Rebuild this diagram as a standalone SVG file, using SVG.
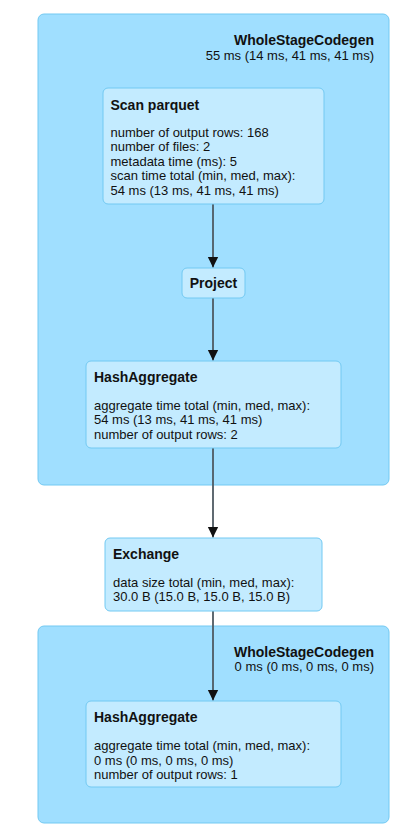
<svg xmlns="http://www.w3.org/2000/svg" width="409" height="831" viewBox="0 0 409 831">
<style>
.cluster{fill:#A0DFFF;stroke:#72C9F2;stroke-width:1}
.node{fill:#C3EBFF;stroke:#72C9F2;stroke-width:1}
text{font-family:"Liberation Sans",Arial,sans-serif;font-size:13px;fill:#111}
.b{font-weight:bold;font-size:14px}
.edge{stroke:#4f5a62;stroke-width:1.8;fill:none}
</style>
<defs>
<marker id="arr" markerUnits="userSpaceOnUse" markerWidth="12" markerHeight="12" viewBox="0 0 12 12" refX="11" refY="6" orient="auto">
<path d="M0,0.6 L11,6 L0,11.4 Z" fill="#111"/>
</marker>
</defs>
<rect width="409" height="831" fill="#fff"/>
<g id="cluster1">
<rect class="cluster" x="38" y="14" width="351" height="471" rx="6"/>
<text class="b" x="374" y="45" text-anchor="end">WholeStageCodegen</text>
<text x="374" y="59.8" text-anchor="end">55 ms (14 ms, 41 ms, 41 ms)</text>
</g>
<g id="cluster2">
<rect class="cluster" x="38" y="626" width="351" height="197" rx="6"/>
<text class="b" x="374" y="656.5" text-anchor="end">WholeStageCodegen</text>
<text x="374" y="671.3" text-anchor="end">0 ms (0 ms, 0 ms, 0 ms)</text>
</g>
<g id="edges">
<line class="edge" x1="213" y1="204" x2="213" y2="267.5" marker-end="url(#arr)"/>
<line class="edge" x1="213" y1="298" x2="213" y2="360.5" marker-end="url(#arr)"/>
<line class="edge" x1="213" y1="448" x2="213" y2="537.5" marker-end="url(#arr)"/>
<line class="edge" x1="213" y1="611" x2="213" y2="700.5" marker-end="url(#arr)"/>
</g>
<g id="scan">
<rect class="node" x="103" y="88" width="221" height="116" rx="5"/>
<text class="b" x="110.5" y="109.5">Scan parquet</text>
<text x="110.5" y="136.5">number of output rows: 168</text>
<text x="110.5" y="151.1">number of files: 2</text>
<text x="110.5" y="165.7">metadata time (ms): 5</text>
<text x="110.5" y="180.3">scan time total (min, med, max):</text>
<text x="110.5" y="194.9">54 ms (13 ms, 41 ms, 41 ms)</text>
</g>
<g id="project">
<rect class="node" x="182" y="268" width="63" height="30" rx="5"/>
<text class="b" x="213.5" y="288" text-anchor="middle">Project</text>
</g>
<g id="hashagg1">
<rect class="node" x="86" y="361" width="255" height="87" rx="5"/>
<text class="b" x="94" y="381.5">HashAggregate</text>
<text x="94" y="409.5">aggregate time total (min, med, max):</text>
<text x="94" y="424.1">54 ms (13 ms, 41 ms, 41 ms)</text>
<text x="94" y="438.7">number of output rows: 2</text>
</g>
<g id="exchange">
<rect class="node" x="105" y="538" width="217" height="73" rx="5"/>
<text class="b" x="113" y="559">Exchange</text>
<text x="113" y="586.5">data size total (min, med, max):</text>
<text x="113" y="601.1">30.0 B (15.0 B, 15.0 B, 15.0 B)</text>
</g>
<g id="hashagg2">
<rect class="node" x="86" y="701" width="255" height="86" rx="5"/>
<text class="b" x="94" y="721.5">HashAggregate</text>
<text x="94" y="750">aggregate time total (min, med, max):</text>
<text x="94" y="764.6">0 ms (0 ms, 0 ms, 0 ms)</text>
<text x="94" y="779.2">number of output rows: 1</text>
</g>
</svg>
